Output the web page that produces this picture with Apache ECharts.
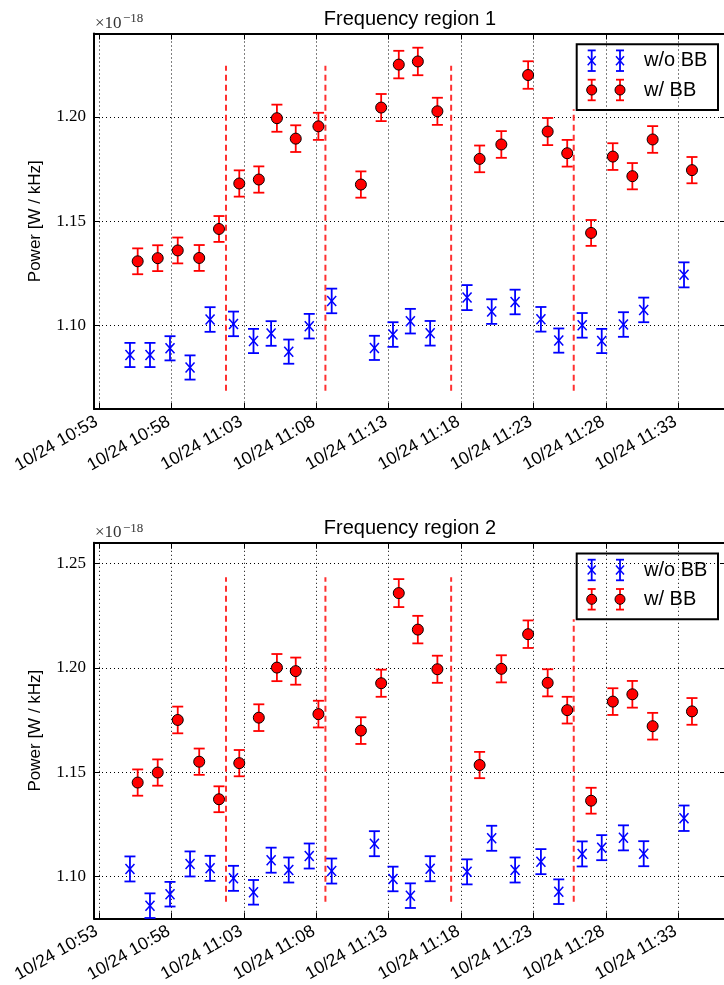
<!DOCTYPE html>
<html><head><meta charset="utf-8">
<script src="https://cdn.jsdelivr.net/npm/echarts@6/dist/echarts.min.js"></script>
<style>html,body{margin:0;padding:0;background:#fff}#c{width:724px;height:985px}</style>
</head><body><div id="c"></div>
<script>
// ---------- data ----------
const datePrefix = '10/24';
const origin = '10:53:00';
const xTicks = ['10:53','10:58','11:03','11:08','11:13','11:18','11:23','11:28','11:33'];
const xRange = ['10:52:39','11:36:18'];

const blueTimes = ['10:55:08','10:56:31','10:57:54','10:59:17','11:00:40','11:02:17','11:03:40','11:04:53','11:06:06','11:07:31','11:09:04','11:12:01','11:13:18','11:14:30','11:15:52','11:18:25','11:20:07','11:21:44','11:23:31','11:24:45','11:26:22','11:27:43','11:29:13','11:30:37','11:33:24'];
const redTimes  = ['10:55:40','10:57:03','10:58:26','10:59:55','11:01:17','11:02:41','11:04:02','11:05:17','11:06:35','11:08:09','11:11:05','11:12:29','11:13:42','11:15:01','11:16:22','11:19:17','11:20:47','11:22:38','11:23:59','11:25:20','11:26:59','11:28:29','11:29:50','11:31:14','11:33:57'];
const dashTimes = ['11:01:46','11:08:38','11:17:19','11:25:47'];

// Frequency region 1 (units of 1e-18 W/kHz)
const r1Blue    = [1.0859,1.0859,1.0891,1.0799,1.1029,1.1008,1.0926,1.0962,1.0875,1.0997,1.1118,1.0893,1.0957,1.1021,1.0963,1.1134,1.1067,1.1113,1.1030,1.0928,1.1001,1.0926,1.1005,1.1075,1.1243];
const r1BlueErr = [0.0058,0.0058,0.0058,0.0058,0.0059,0.0059,0.0058,0.0059,0.0058,0.0059,0.0059,0.0058,0.0059,0.0059,0.0059,0.0060,0.0059,0.0059,0.0059,0.0058,0.0059,0.0058,0.0059,0.0059,0.0060];
const r1Red     = [1.1308,1.1323,1.1360,1.1324,1.1463,1.1681,1.1700,1.1994,1.1896,1.1955,1.1676,1.2045,1.2251,1.2266,1.2027,1.1799,1.1868,1.2201,1.1930,1.1826,1.1444,1.1810,1.1716,1.1892,1.1745];
const r1RedErr  = [0.0062,0.0062,0.0062,0.0062,0.0062,0.0063,0.0063,0.0065,0.0064,0.0065,0.0063,0.0065,0.0066,0.0066,0.0065,0.0064,0.0064,0.0066,0.0065,0.0064,0.0062,0.0064,0.0063,0.0064,0.0063];
const r1Dash    = [[1.0687,1.2245],[1.0687,1.2245],[1.0687,1.2245],[1.0687,1.2037]];

// Frequency region 2
const r2Blue    = [1.1037,1.0861,1.0916,1.1061,1.1040,1.0992,1.0925,1.1079,1.1032,1.1099,1.1027,1.1158,1.0989,1.0909,1.1038,1.1023,1.1184,1.1032,1.1072,1.0928,1.1109,1.1139,1.1186,1.1110,1.1280];
const r2BlueErr = [0.0060,0.0059,0.0059,0.0060,0.0060,0.0060,0.0059,0.0060,0.0060,0.0060,0.0060,0.0060,0.0059,0.0059,0.0060,0.0060,0.0060,0.0060,0.0060,0.0059,0.0060,0.0060,0.0060,0.0060,0.0061];
const r2Red     = [1.1451,1.1499,1.1751,1.1551,1.1371,1.1544,1.1762,1.2002,1.1985,1.1779,1.1700,1.1927,1.2359,1.2184,1.1994,1.1535,1.1996,1.2162,1.1929,1.1798,1.1364,1.1839,1.1874,1.1721,1.1792];
const r2RedErr  = [0.0063,0.0063,0.0064,0.0063,0.0062,0.0063,0.0064,0.0065,0.0065,0.0064,0.0064,0.0065,0.0067,0.0066,0.0065,0.0063,0.0065,0.0066,0.0065,0.0064,0.0062,0.0064,0.0064,0.0064,0.0064];
const r2Dash    = [[1.088,1.2435],[1.088,1.2435],[1.088,1.2435],[1.088,1.2234]];

const yTicks1 = [1.10,1.15,1.20];
const yTicks2 = [1.10,1.15,1.20,1.25];
const yRange1 = [1.06,1.24];
const yRange2 = [1.08,1.26];
const titles = ['Frequency region 1','Frequency region 2'];
const legendNames = ['w/o BB','w/ BB'];
const yName = 'Power [W / kHz]';
const offsetBase = '\u00d710', offsetExp = '\u221218';

// ---------- helpers ----------
function toMin(t){const p=t.split(':').map(Number);const o=origin.split(':').map(Number);
  return (p[0]*60+p[1]+(p[2]||0)/60)-(o[0]*60+o[1]+(o[2]||0)/60);}
const xMin = toMin(xRange[0]), xMax = toMin(xRange[1]);
const xTickVals = xTicks.map(toMin);

const BLUE='#0000ff', RED='#ff0000', DASH='#ff3030';
function errRender(kind){
  return function(params, api){
    const x=api.value(0), y=api.value(1), e=api.value(2);
    const p=api.coord([x,y]), t=api.coord([x,y+e]), b=api.coord([x,y-e]);
    const color = kind==='circle'?RED:BLUE;
    const cw=5.5, ls={stroke:color,lineWidth:1.8};
    const ch=[
      {type:'line',shape:{x1:p[0],y1:t[1],x2:p[0],y2:b[1]},style:ls},
      {type:'line',shape:{x1:p[0]-cw,y1:t[1],x2:p[0]+cw,y2:t[1]},style:ls},
      {type:'line',shape:{x1:p[0]-cw,y1:b[1],x2:p[0]+cw,y2:b[1]},style:ls}
    ];
    if(kind==='circle'){
      ch.push({type:'circle',shape:{cx:p[0],cy:p[1],r:5.5},style:{fill:RED,stroke:'#000',lineWidth:1}});
    } else {
      const sx=4.5, sy=5, xs={stroke:BLUE,lineWidth:1.5};
      ch.push({type:'line',shape:{x1:p[0]-sx,y1:p[1]-sy,x2:p[0]+sx,y2:p[1]+sy},style:xs});
      ch.push({type:'line',shape:{x1:p[0]-sx,y1:p[1]+sy,x2:p[0]+sx,y2:p[1]-sy},style:xs});
    }
    return {type:'group',children:ch};
  };
}

const grids=[{left:94,top:33.5,width:632,height:375.5,outerBoundsMode:'none',containLabel:false},
             {left:94,top:542.8,width:632,height:375.6,outerBoundsMode:'none',containLabel:false}];
const sets=[
  {blue:r1Blue,blueErr:r1BlueErr,red:r1Red,redErr:r1RedErr,dash:r1Dash,yT:yTicks1,yR:yRange1},
  {blue:r2Blue,blueErr:r2BlueErr,red:r2Red,redErr:r2RedErr,dash:r2Dash,yT:yTicks2,yR:yRange2}
];
const dotted={type:[1,3],color:'#000',width:1};
const xAxes=[],yAxes=[],series=[],graphics=[];
sets.forEach((s,i)=>{
  xAxes.push({type:'value',gridIndex:i,min:xMin,max:xMax,position:'bottom',
    axisLine:{show:true,onZero:false,lineStyle:{color:'#000',width:2}},
    axisTick:{show:true,inside:true,length:6,customValues:xTickVals,lineStyle:{color:'#000',width:1}},
    axisLabel:{show:true,customValues:xTickVals,rotate:30,margin:10,padding:[0,3,0,0],fontSize:17.5,fontFamily:'Liberation Sans',color:'#000',
      formatter:(v)=>{const k=xTickVals.findIndex(t=>Math.abs(t-v)<1e-6);return k>=0?datePrefix+' '+xTicks[k]:'';}},
    splitLine:{show:true,lineStyle:dotted}});
  xAxes.push({type:'value',gridIndex:i,min:xMin,max:xMax,position:'top',
    axisLine:{show:true,onZero:false,lineStyle:{color:'#000',width:2}},
    axisTick:{show:true,inside:true,length:6,customValues:xTickVals,lineStyle:{color:'#000',width:1}},
    axisLabel:{show:false},splitLine:{show:false}});
  yAxes.push({type:'value',gridIndex:i,min:s.yR[0],max:s.yR[1],position:'left',
    name:yName,nameLocation:'middle',nameGap:50,nameRotate:90,
    nameTextStyle:{fontSize:17,fontFamily:'Liberation Sans',color:'#000'},
    axisLine:{show:true,onZero:false,lineStyle:{color:'#000',width:2}},
    axisTick:{show:true,inside:true,length:6,customValues:s.yT,lineStyle:{color:'#000',width:1}},
    axisLabel:{show:true,customValues:s.yT,margin:8,fontSize:17,fontFamily:'Liberation Serif',color:'#000',formatter:v=>v.toFixed(2)},
    splitLine:{show:true,lineStyle:dotted}});
  yAxes.push({type:'value',gridIndex:i,min:s.yR[0],max:s.yR[1],position:'right',
    axisLine:{show:true,onZero:false,lineStyle:{color:'#000',width:2}},
    axisTick:{show:true,inside:true,length:6,customValues:s.yT,lineStyle:{color:'#000',width:1}},
    axisLabel:{show:false},splitLine:{show:false}});
  const xi=i*2, yi=i*2;
  dashTimes.forEach((t,k)=>{
    series.push({type:'line',xAxisIndex:xi,yAxisIndex:yi,symbol:'none',silent:true,z:3,
      data:[[toMin(t),s.dash[k][0]],[toMin(t),s.dash[k][1]]],
      lineStyle:{color:DASH,width:2,type:[6,4]}});
  });
  series.push({type:'custom',xAxisIndex:xi,yAxisIndex:yi,renderItem:errRender('x'),z:4,
    encode:{x:0,y:1},data:blueTimes.map((t,k)=>[toMin(t),s.blue[k],s.blueErr[k]])});
  series.push({type:'custom',xAxisIndex:xi,yAxisIndex:yi,renderItem:errRender('circle'),z:5,
    encode:{x:0,y:1},data:redTimes.map((t,k)=>[toMin(t),s.red[k],s.redErr[k]])});

  const gt=grids[i].top;
  // title
  graphics.push({type:'text',x:410,y:gt-14.5,z:10,style:{text:titles[i],fontSize:20,fontFamily:'Liberation Sans',fill:'#000',align:'center',verticalAlign:'middle'}});
  // offset text
  graphics.push({type:'text',x:95,y:gt-10,z:10,style:{text:offsetBase,fontSize:17,fontFamily:'Liberation Serif',fill:'#333',align:'left',verticalAlign:'middle'}});
  graphics.push({type:'text',x:123,y:gt-14.5,z:10,style:{text:offsetExp,fontSize:13,fontFamily:'Liberation Serif',fill:'#333',align:'left',verticalAlign:'middle'}});
  // legend
  const lg={type:'group',x:576.7,y:gt+10.8,z:20,children:[
    {type:'rect',shape:{x:0,y:0,width:141.3,height:65.7},style:{fill:'#fff',stroke:'#000',lineWidth:2}}
  ]};
  [15,43.3].forEach(mx=>{
    const ey=16.4, ry=45.7, eh=10.3, cw=4;
    const bl={stroke:BLUE,lineWidth:1.8}, rl={stroke:RED,lineWidth:1.8};
    lg.children.push(
      {type:'line',shape:{x1:mx,y1:ey-eh,x2:mx,y2:ey+eh},style:bl},
      {type:'line',shape:{x1:mx-cw,y1:ey-eh,x2:mx+cw,y2:ey-eh},style:bl},
      {type:'line',shape:{x1:mx-cw,y1:ey+eh,x2:mx+cw,y2:ey+eh},style:bl},
      {type:'line',shape:{x1:mx-4,y1:ey-4.5,x2:mx+4,y2:ey+4.5},style:{stroke:BLUE,lineWidth:1.5}},
      {type:'line',shape:{x1:mx-4,y1:ey+4.5,x2:mx+4,y2:ey-4.5},style:{stroke:BLUE,lineWidth:1.5}},
      {type:'line',shape:{x1:mx,y1:ry-eh,x2:mx,y2:ry+eh},style:rl},
      {type:'line',shape:{x1:mx-cw,y1:ry-eh,x2:mx+cw,y2:ry-eh},style:rl},
      {type:'line',shape:{x1:mx-cw,y1:ry+eh,x2:mx+cw,y2:ry+eh},style:rl},
      {type:'circle',shape:{cx:mx,cy:ry,r:5},style:{fill:RED,stroke:'#000',lineWidth:1}}
    );
  });
  lg.children.push({type:'text',x:67.3,y:16.4,style:{text:legendNames[0],fontSize:20,fontFamily:'Liberation Sans',fill:'#000',align:'left',verticalAlign:'middle'}});
  lg.children.push({type:'text',x:67.3,y:45.7,style:{text:legendNames[1],fontSize:20,fontFamily:'Liberation Sans',fill:'#000',align:'left',verticalAlign:'middle'}});
  graphics.push(lg);
});

const chart=echarts.init(document.getElementById('c'),null,{renderer:'canvas'});
chart.setOption({animation:false,backgroundColor:'#fff',grid:grids,xAxis:xAxes,yAxis:yAxes,series:series,graphic:graphics});
</script></body></html>
